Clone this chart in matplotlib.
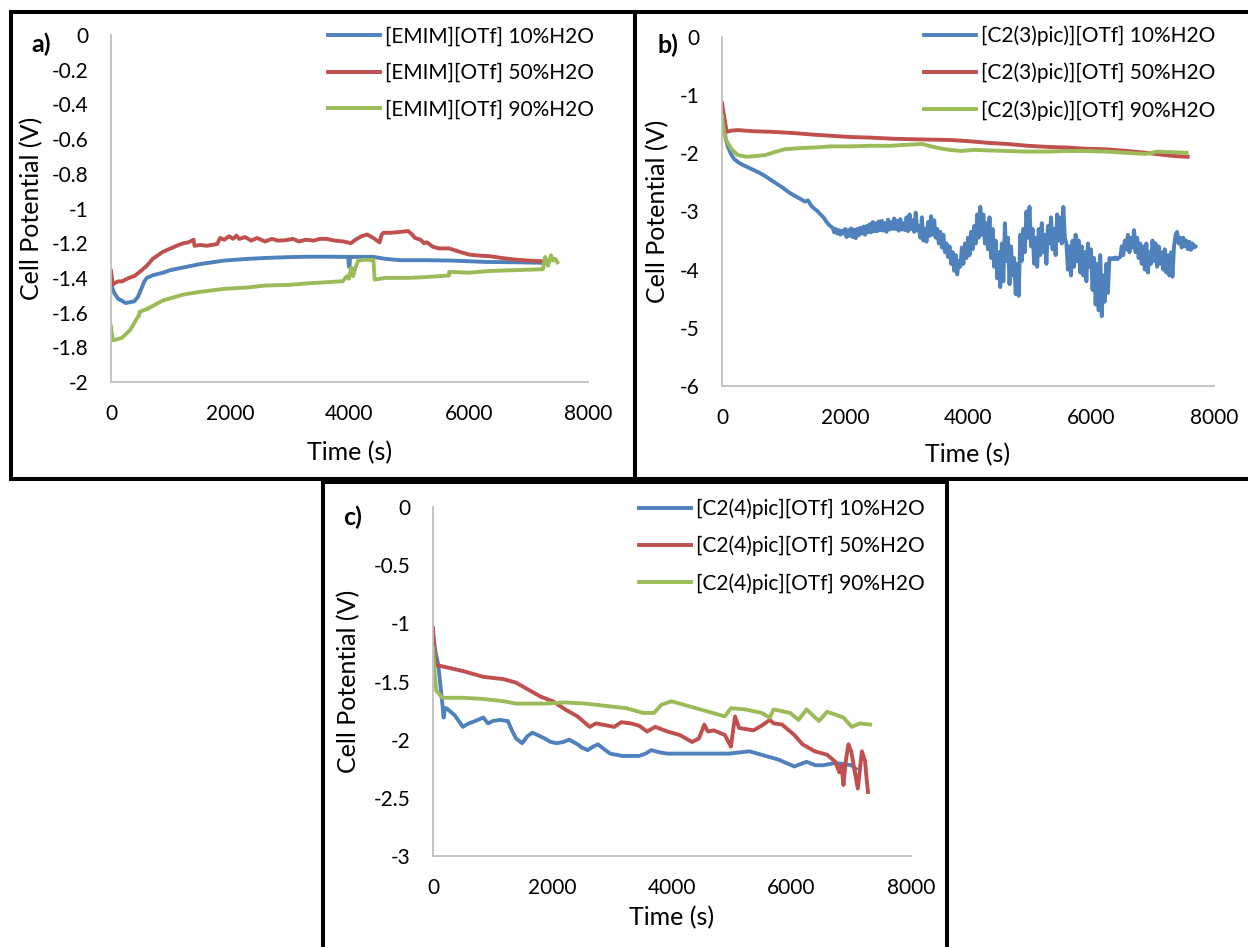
import matplotlib
matplotlib.use("Agg")
import matplotlib.pyplot as plt
from matplotlib.patches import Rectangle

plt.rcParams['font.family'] = ['Lato', 'DejaVu Sans']

BLUE = '#4F81BD'
RED = '#C0504D'
GREEN = '#9BBB59'

# ---- a) [EMIM][OTf] ----
a10_t = [0, 60, 120, 250, 390, 450, 500, 560, 600, 700, 870, 1000, 1210, 1500, 1900, 2300,
         2600, 3000, 3300, 3700, 3980, 3990, 4000, 4010, 4400, 4600, 4850, 5300, 5700, 6300,
         6800, 7230]
a10_v = [-1.44, -1.49, -1.52, -1.545, -1.535, -1.51, -1.47, -1.42, -1.40, -1.385, -1.37,
         -1.355, -1.34, -1.32, -1.30, -1.29, -1.285, -1.28, -1.278, -1.278, -1.279, -1.335,
         -1.335, -1.279, -1.279, -1.29, -1.298, -1.298, -1.300, -1.308, -1.31, -1.313]

a50_t = [0, 30, 60, 120, 185, 300, 390, 500, 600, 700, 870, 1000, 1100, 1213, 1300, 1385,
         1400, 1500, 1600, 1693, 1780, 1830, 1900, 1980, 2050, 2104, 2150, 2250, 2350, 2450,
         2584, 2700, 2800, 2927, 3050, 3150, 3270, 3400, 3500, 3613, 3750, 3900, 4024, 4100,
         4200, 4298, 4400, 4504, 4540, 4573, 4700, 4850, 4984, 5050, 5100, 5190, 5250, 5300,
         5394, 5500, 5669, 5850, 6012, 6200, 6355, 6550, 6766, 7000, 7212]
a50_v = [-1.36, -1.44, -1.43, -1.42, -1.42, -1.40, -1.39, -1.36, -1.33, -1.29, -1.25, -1.23,
         -1.215, -1.20, -1.195, -1.18, -1.215, -1.21, -1.215, -1.21, -1.205, -1.17, -1.18,
         -1.16, -1.175, -1.156, -1.175, -1.165, -1.185, -1.17, -1.19, -1.175, -1.185, -1.183,
         -1.175, -1.19, -1.18, -1.185, -1.175, -1.175, -1.185, -1.19, -1.20, -1.18, -1.16,
         -1.15, -1.17, -1.195, -1.15, -1.14, -1.14, -1.135, -1.13, -1.15, -1.17, -1.18, -1.20,
         -1.195, -1.22, -1.23, -1.23, -1.25, -1.266, -1.272, -1.275, -1.285, -1.294, -1.30,
         -1.304]

a90_t = [0, 20, 40, 185, 322, 459, 470, 480, 600, 871, 1213, 1500, 1899, 2300, 2584, 3000,
         3270, 3600, 3887, 3955, 3990, 4030, 4060, 4100, 4147, 4250, 4401, 4410, 4421, 4600,
         4984, 5300, 5669, 5672, 6000, 6355, 6800, 7246, 7260, 7281, 7330, 7380, 7417, 7450,
         7486]
a90_v = [-1.68, -1.74, -1.76, -1.745, -1.70, -1.62, -1.62, -1.595, -1.58, -1.53, -1.496,
         -1.48, -1.463, -1.455, -1.444, -1.44, -1.432, -1.425, -1.419, -1.39, -1.405, -1.34,
         -1.39, -1.34, -1.30, -1.295, -1.298, -1.35, -1.41, -1.40, -1.40, -1.395, -1.386,
         -1.365, -1.37, -1.36, -1.355, -1.35, -1.32, -1.28, -1.33, -1.27, -1.30, -1.29, -1.31]

# ---- b) [C2(3)pic)][OTf] ----
b10_t = [0, 20, 60, 100, 150, 200, 260, 320, 400, 500, 600, 700, 800, 900, 1000, 1100, 1200,
         1300, 1350, 1400, 1450, 1500, 1550, 1600, 1650, 1700, 1750,
         1800, 1825, 1850, 1875, 1900, 1925, 1950, 1975, 2000, 2025, 2050, 2075,
         2100, 2125, 2150, 2175, 2200, 2225, 2250, 2275, 2300, 2325, 2350, 2375,
         2400, 2425, 2450, 2475, 2500, 2525, 2550, 2575, 2600, 2625, 2650, 2675,
         2700, 2725, 2750, 2775, 2800, 2825, 2850, 2875, 2900, 2925, 2950, 2975,
         3000, 3025, 3050, 3075, 3100, 3125, 3150, 3175, 3200, 3225, 3250, 3275,
         3300, 3325, 3350, 3375, 3400, 3425, 3450, 3475, 3500, 3525, 3550, 3575,
         3600, 3625, 3650, 3675, 3700, 3725, 3750, 3775, 3800, 3825, 3850, 3875,
         3900, 3925, 3950, 3975, 4000, 4025, 4050, 4075, 4100, 4125, 4150, 4175,
         4200, 4225, 4250, 4275, 4300, 4325, 4350, 4375, 4400, 4425, 4450, 4475,
         4500, 4525, 4550, 4575, 4600, 4625, 4650, 4675, 4700, 4725, 4750, 4775,
         4800, 4825, 4850, 4875, 4900, 4925, 4950, 4975, 5000, 5025, 5050, 5075,
         5100, 5125, 5150, 5175, 5200, 5225, 5250, 5275, 5300, 5325, 5350, 5375,
         5400, 5425, 5450, 5475, 5500, 5525, 5550, 5575, 5600, 5625, 5650, 5675,
         5700, 5725, 5750, 5775, 5800, 5825, 5850, 5875, 5900, 5925, 5950, 5975,
         6000, 6025, 6050, 6075, 6100, 6125, 6150, 6175, 6200, 6225, 6250, 6275,
         6300, 6325, 6350, 6375, 6400, 6425, 6450, 6475, 6500, 6525, 6550, 6575,
         6600, 6625, 6650, 6675, 6700, 6725, 6750, 6775, 6800, 6825, 6850, 6875,
         6900, 6925, 6950, 6975, 7000, 7025, 7050, 7075, 7100, 7125, 7150, 7175,
         7200, 7225, 7250, 7275, 7300, 7325, 7350, 7375, 7400, 7425, 7450, 7475,
         7500, 7525, 7550, 7575, 7600, 7625, 7650, 7675, 7700]
b10_v = [-1.30, -1.45, -1.75, -1.90, -2.02, -2.10, -2.15, -2.19, -2.23, -2.28, -2.33, -2.39,
         -2.46, -2.53, -2.60, -2.68, -2.74, -2.80, -2.83, -2.81, -2.90, -2.95, -2.99, -3.05,
         -3.10, -3.18, -3.24,
         -3.28, -3.36, -3.30, -3.38, -3.32, -3.40, -3.33, -3.38, -3.30, -3.44, -3.32, -3.42,
         -3.29, -3.44, -3.31, -3.46, -3.30, -3.41, -3.28, -3.38, -3.26, -3.40, -3.25, -3.36,
         -3.22, -3.36, -3.18, -3.34, -3.20, -3.34, -3.17, -3.32, -3.16, -3.33, -3.20, -3.35,
         -3.14, -3.31, -3.18, -3.30, -3.12, -3.30, -3.16, -3.33, -3.13, -3.31, -3.20, -3.32,
         -3.10, -3.34, -3.05, -3.30, -3.15, -3.35, -3.02, -3.33, -3.25, -3.45, -3.10, -3.50,
         -3.30, -3.52, -3.18, -3.42, -3.08, -3.40, -3.15, -3.45, -3.30, -3.55, -3.35, -3.62,
         -3.40, -3.70, -3.55, -3.78, -3.60, -3.90, -3.70, -4.02, -3.75, -4.08, -3.85, -3.95,
         -3.62, -3.90, -3.55, -3.80, -3.45, -3.75, -3.35, -3.65, -3.25, -3.55, -3.05, -3.45,
         -2.92, -3.40, -3.05, -3.55, -3.20, -3.65, -3.10, -3.80, -3.30, -3.95, -3.50, -4.15,
         -3.70, -4.30, -3.55, -4.20, -3.20, -3.85, -3.45, -4.25, -3.60, -4.10, -3.80, -4.42,
         -3.90, -4.45, -3.40, -3.85, -3.30, -3.70, -3.00, -3.45, -2.92, -3.60, -3.30, -3.90,
         -3.45, -3.95, -3.30, -3.75, -3.20, -3.70, -3.40, -3.90, -3.25, -3.55, -3.10, -3.65,
         -3.30, -3.75, -3.05, -3.50, -3.10, -3.55, -2.92, -3.45, -3.55, -4.00, -3.60, -4.10,
         -3.50, -3.95, -3.40, -3.85, -3.50, -4.05, -3.60, -4.10, -3.70, -4.20, -3.55, -3.95,
         -3.65, -4.35, -3.80, -4.60, -3.90, -4.70, -3.75, -4.80, -4.10, -4.55, -3.90, -4.40,
         -3.80, -3.82, -3.80, -3.82, -3.79, -3.82, -3.80, -3.78, -3.60, -3.75, -3.50, -3.65,
         -3.40, -3.70, -3.45, -3.62, -3.32, -3.70, -3.45, -3.80, -3.55, -3.90, -3.60, -4.00,
         -3.55, -4.05, -3.70, -3.90, -3.50, -3.85, -3.55, -3.95, -3.60, -3.90, -3.70, -4.00,
         -3.65, -4.05, -3.75, -4.10, -3.70, -4.12, -3.60, -3.40, -3.35, -3.55, -3.45, -3.62,
         -3.45, -3.60, -3.50, -3.65, -3.52, -3.66, -3.55, -3.62, -3.60]

b50_t = [0, 40, 76, 150, 255, 500, 800, 1147, 1500, 1800, 2100, 2422, 2800, 3200, 3697, 4000,
         4335, 4650, 4972, 5300, 5610, 5900, 6247, 6600, 6884, 7203, 7400, 7573]
b50_v = [-1.14, -1.40, -1.63, -1.61, -1.60, -1.62, -1.63, -1.65, -1.68, -1.70, -1.72, -1.73,
         -1.75, -1.76, -1.77, -1.79, -1.82, -1.84, -1.87, -1.89, -1.90, -1.92, -1.93, -1.96,
         -1.99, -2.03, -2.05, -2.06]

b90_t = [0, 30, 64, 150, 255, 400, 510, 701, 850, 1020, 1275, 1500, 1785, 2100, 2422, 2750,
         3060, 3251, 3400, 3570, 3700, 3888, 4100, 4335, 4650, 4972, 5300, 5610, 5900, 6247,
         6550, 6884, 6950, 7076, 7300, 7554]
b90_v = [-1.35, -1.62, -1.77, -1.92, -2.03, -2.06, -2.05, -2.03, -1.98, -1.93, -1.91, -1.90,
         -1.88, -1.88, -1.87, -1.87, -1.85, -1.84, -1.88, -1.92, -1.94, -1.96, -1.94, -1.95,
         -1.96, -1.97, -1.97, -1.96, -1.96, -1.97, -1.99, -2.01, -2.00, -1.97, -1.98, -1.99]

# ---- c) [C2(4)pic][OTf] ----
c10_t = [0, 40, 89, 158, 178, 200, 226, 363, 500, 600, 705, 842, 920, 1000, 1116, 1253, 1320,
         1390, 1493, 1580, 1664, 1750, 1870, 1970, 2075, 2180, 2281, 2418, 2500, 2589, 2680,
         2760, 2860, 2966, 3171, 3445, 3560, 3651, 3800, 3925, 4267, 4610, 4952, 5295, 5500,
         5774, 6048, 6150, 6253, 6400, 6527, 6733, 7007, 7075]
c10_v = [-1.10, -1.24, -1.36, -1.70, -1.81, -1.73, -1.73, -1.79, -1.89, -1.86, -1.84, -1.81,
         -1.86, -1.84, -1.83, -1.84, -1.92, -1.99, -2.03, -1.97, -1.94, -1.96, -1.99, -2.02,
         -2.03, -2.02, -2.00, -2.04, -2.07, -2.09, -2.06, -2.04, -2.08, -2.12, -2.14, -2.14,
         -2.12, -2.09, -2.11, -2.12, -2.12, -2.12, -2.12, -2.10, -2.13, -2.17, -2.23, -2.21,
         -2.19, -2.22, -2.22, -2.20, -2.22, -2.25]

c50_t = [0, 30, 55, 158, 500, 842, 1185, 1390, 1596, 1801, 2007, 2212, 2418, 2623, 2729, 2829,
         3034, 3150, 3308, 3450, 3582, 3719, 3925, 4130, 4336, 4450, 4541, 4600, 4700, 4884,
         4986, 5020, 5055, 5123, 5250, 5363, 5500, 5637, 5700, 5842, 6048, 6185, 6390, 6596,
         6733, 6800, 6836, 6870, 6904, 6952, 7000, 7050, 7110, 7178, 7230, 7260, 7281]
c50_v = [-1.04, -1.30, -1.36, -1.37, -1.41, -1.46, -1.48, -1.51, -1.57, -1.63, -1.67, -1.74,
         -1.80, -1.89, -1.86, -1.87, -1.89, -1.85, -1.86, -1.88, -1.93, -1.89, -1.93, -1.96,
         -2.02, -1.99, -1.87, -1.93, -1.92, -1.96, -2.06, -1.93, -1.80, -1.90, -1.91, -1.92,
         -1.88, -1.83, -1.86, -1.87, -1.96, -2.04, -2.10, -2.13, -2.19, -2.28, -2.22, -2.39,
         -2.20, -2.04, -2.10, -2.25, -2.42, -2.10, -2.18, -2.35, -2.45]

c90_t = [0, 30, 55, 158, 500, 842, 1185, 1390, 1870, 2212, 2555, 2897, 3240, 3514, 3700, 3822,
         3993, 4267, 4610, 4884, 4986, 5226, 5500, 5637, 5700, 5979, 6116, 6253, 6459, 6596,
         6870, 7007, 7144, 7315]
c90_v = [-1.21, -1.45, -1.58, -1.64, -1.64, -1.65, -1.67, -1.69, -1.69, -1.68, -1.69, -1.71,
         -1.73, -1.77, -1.77, -1.70, -1.67, -1.71, -1.76, -1.80, -1.73, -1.74, -1.77, -1.81,
         -1.74, -1.77, -1.83, -1.74, -1.84, -1.76, -1.81, -1.89, -1.86, -1.87]

water = ['10%H2O', '50%H2O', '90%H2O']
names = ['[EMIM][OTf]', '[C2(3)pic)][OTf]', '[C2(4)pic][OTf]']
a_ticks = [0, -0.2, -0.4, -0.6, -0.8, -1, -1.2, -1.4, -1.6, -1.8, -2]
b_ticks = [0, -1, -2, -3, -4, -5, -6]
c_ticks = [0, -0.5, -1, -1.5, -2, -2.5, -3]
x_ticks = [0, 2000, 4000, 6000, 8000]

W, H = 1248, 947
fig = plt.figure(figsize=(W / 100, H / 100), dpi=100)


def px_axes(left, right, top, bottom):
    return fig.add_axes([left / W, 1 - bottom / H, (right - left) / W, (bottom - top) / H])


def style(ax, yticks, ylab_x, xlab_y):
    ax.set_xlim(0, 8000)
    ax.set_ylim(min(yticks), 0)
    ax.set_xticks(x_ticks)
    ax.set_yticks(yticks)
    ax.set_xticklabels([f'{t:g}' for t in x_ticks])
    ax.set_yticklabels([f'{t:g}' for t in yticks])
    ax.tick_params(length=0, labelsize=15, pad=16)
    for s in ['top', 'right']:
        ax.spines[s].set_visible(False)
    for s in ['left', 'bottom']:
        ax.spines[s].set_color('#BFBFBF')
        ax.spines[s].set_linewidth(1.3)
    ax.set_ylabel('Cell Potential (V)', fontsize=18)
    ax.set_xlabel('Time (s)', fontsize=18)
    ax.yaxis.set_label_coords(ylab_x, 0.5)
    ax.xaxis.set_label_coords(0.5, xlab_y)
    ax.yaxis.label.set_va('center')
    ax.xaxis.label.set_va('center')


def legend(ax, name, x, y):
    ax.legend([f'{name} {w}' for w in water], loc='center left',
              bbox_to_anchor=(x / W, 1 - y / H), bbox_transform=fig.transFigure,
              frameon=False, fontsize=15, handlelength=2.5, handletextpad=0.25,
              labelspacing=0.8, borderpad=0, borderaxespad=0)


lw = 2.8
ax_a = px_axes(111, 588, 35, 382)
ax_a.plot(a10_t, a10_v, color=BLUE, lw=lw)
ax_a.plot(a50_t, a50_v, color=RED, lw=lw)
ax_a.plot(a90_t, a90_v, color=GREEN, lw=lw)
style(ax_a, a_ticks, -0.166, -0.205)
legend(ax_a, names[0], 328, 73)

ax_b = px_axes(722, 1214, 37, 386)
ax_b.plot(b10_t, b10_v, color=BLUE, lw=lw)
ax_b.plot(b50_t, b50_v, color=RED, lw=lw)
ax_b.plot(b90_t, b90_v, color=GREEN, lw=lw)
style(ax_b, b_ticks, -0.131, -0.198)
legend(ax_b, names[1], 924, 73)

ax_c = px_axes(433, 911, 507, 856)
ax_c.plot(c10_t, c10_v, color=BLUE, lw=lw)
ax_c.plot(c50_t, c50_v, color=RED, lw=lw)
ax_c.plot(c90_t, c90_v, color=GREEN, lw=lw)
style(ax_c, c_ticks, -0.176, -0.178)
legend(ax_c, names[2], 639, 546)

# panel letters
for lab, x, y in [('a)', 41, 44), ('b)', 668, 45), ('c)', 353, 517)]:
    fig.text(x / W, 1 - y / H, lab, fontsize=18, fontweight='bold', ha='center', va='center')

# black frames around the panels
frames = [(11, 12, 635, 479), (635, 12, 1260, 479), (323, 482, 946.5, 960)]
for x0, y0, x1, y1 in frames:
    fig.add_artist(Rectangle((x0 / W, 1 - y1 / H), (x1 - x0) / W, (y1 - y0) / H,
                             transform=fig.transFigure, fill=False, ec='black', lw=2.9))

fig.savefig('out.png', dpi=100)
